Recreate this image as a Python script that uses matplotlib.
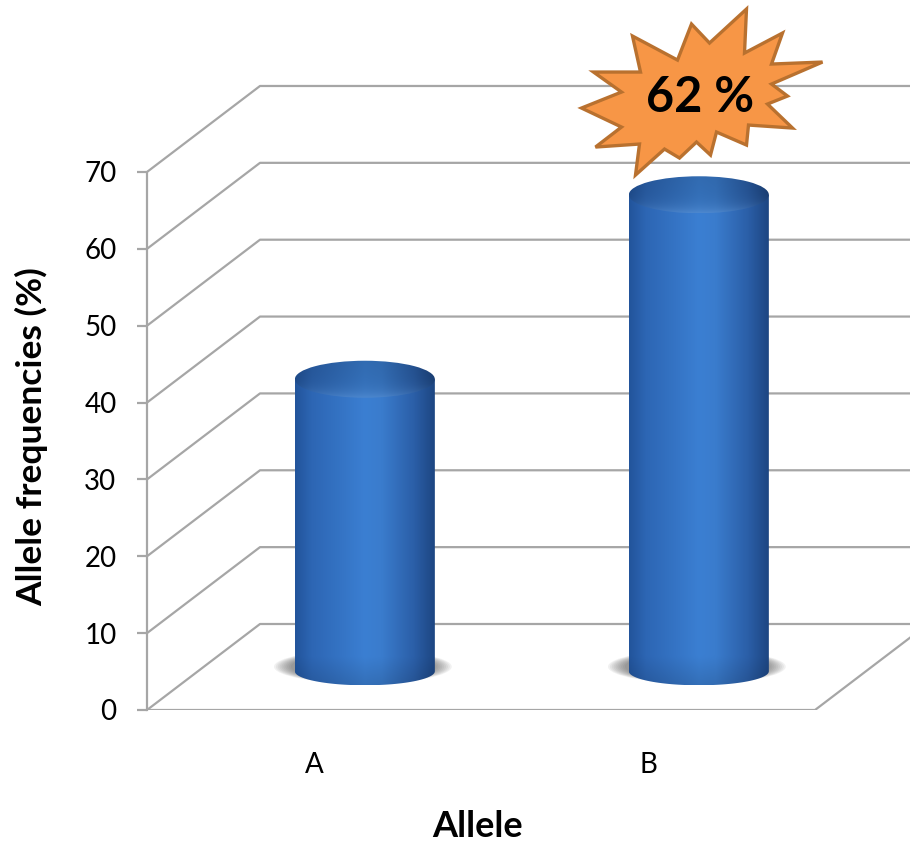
import numpy as np
import matplotlib.pyplot as plt
from matplotlib.patches import PathPatch, Ellipse, Polygon
from matplotlib.path import Path
from matplotlib.colors import to_rgb

alleles = ["A", "B"]
frequencies = [38, 62]
y_ticks = [0, 10, 20, 30, 40, 50, 60, 70]

plt.rcParams['font.family'] = ['Lato', 'DejaVu Sans']

W, H = 910, 842
fig = plt.figure(figsize=(W / 100, H / 100), dpi=100)

# front plane of the 3d box: one category = 334 px, one percent = 7.686 px
px_cat = 334.0
px_val = 7.686
left_px, base_px = 147, 710
ax = fig.add_axes([left_px / W, (H - base_px) / H, (W - left_px) / W, base_px / H])
x_lo = -0.5
x_hi = x_lo + (W - left_px) / px_cat
ax.set_xlim(x_lo, x_hi)
ax.set_ylim(0, base_px / px_val)

depth_x = 113 / px_cat
depth_y = 86 / px_val
grid_c = '#a6a6a6'
n = len(alleles)

# side wall + back wall gridlines
for v in y_ticks:
    ax.plot([x_lo, x_lo + depth_x, x_hi], [v, v + depth_y, v + depth_y],
            color=grid_c, lw=1.6, zorder=1, solid_capstyle='butt')
# front edge of the floor
ax.plot([x_lo, x_lo + n, x_lo + n + depth_x], [0, 0, depth_y],
        color=grid_c, lw=1.6, zorder=1)

for s in ['top', 'right', 'bottom']:
    ax.spines[s].set_visible(False)
ax.spines['left'].set_bounds(0, y_ticks[-1])
ax.spines['left'].set_color(grid_c)
ax.spines['left'].set_linewidth(1.6)
ax.set_yticks(y_ticks)
ax.tick_params(axis='y', length=7, width=1.6, color=grid_c, pad=15,
               labelsize=20, labelcolor='black')
ax.set_xticks(range(n), alleles)
ax.tick_params(axis='x', length=0, pad=30, labelsize=20)


def shade(stops, cols, t):
    rgb = np.array([to_rgb(c) for c in cols])
    return np.stack([np.interp(t, stops, rgb[:, k]) for k in range(3)], axis=-1)


body_stops = [0, 0.12, 0.5, 0.62, 0.85, 1]
body_cols = ['#22549b', '#2d66b4', '#3b7fd2', '#3a7ccd', '#2b5fa8', '#1d4682']

rw = 70 / px_cat      # cylinder radius in category units
ry = 18.5 / px_val    # half height of the top ellipse
ry_base = 14 / px_val # base ellipse is seen a little flatter
depth_pos = 0.45      # where the cylinders stand between front and back
y0 = depth_y * depth_pos

for i, val in enumerate(frequencies):
    cx = i + depth_x * depth_pos
    y1 = val + y0

    # soft shadow on the floor
    for k in range(10):
        s = 1.27 - 0.027 * k
        ax.add_patch(Ellipse((cx - 2 / px_cat, y0 + 0.6), 2 * rw * s, 2 * ry * (0.9 - 0.015 * k),
                             color='#3a3a3a', alpha=0.065, lw=0, zorder=2))

    # body outline: side walls + lower half of the base ellipse
    t = np.linspace(np.pi, 2 * np.pi, 60)
    verts = [(cx - rw, y1)] + list(zip(cx + rw * np.cos(t), y0 + ry_base * np.sin(t))) + [(cx + rw, y1)]
    body = PathPatch(Path(verts + [verts[0]], closed=True), fc='none', ec='none', zorder=3)
    ax.add_patch(body)

    nx, ny = 200, 200
    prof = shade(body_stops, body_cols, np.linspace(0, 1, nx))
    yy = np.linspace(y0 - ry_base, y1, ny)[:, None]
    dark = 1 - 0.12 * np.clip((y0 + ry_base - yy) / (2 * ry_base), 0, 1)
    img = prof[None, :, :] * dark[:, :, None]
    im = ax.imshow(img, extent=[cx - rw, cx + rw, y0 - ry_base, y1], origin='lower',
                   aspect='auto', interpolation='bilinear', zorder=3)
    im.set_clip_path(body)

    # top face
    top = Ellipse((cx, y1), 2 * rw, 2 * ry, fc='none', ec='none', zorder=4)
    ax.add_patch(top)
    ty = np.linspace(0, 1, ny)[:, None]          # 0 = front edge, 1 = back edge
    rim = np.clip(1 - ty, 0, 1) ** 5
    timg = prof[None, :, :] * 0.9 * (1 - 0.06 * ty[:, :, None])
    timg = timg * (1 - 0.45 * rim[:, :, None]) + np.array(to_rgb('#6aa3e6')) * 0.45 * rim[:, :, None]
    tim = ax.imshow(timg, extent=[cx - rw, cx + rw, y1 - ry, y1 + ry], origin='lower',
                    aspect='auto', interpolation='bilinear', zorder=4)
    tim.set_clip_path(top)

ax.set_xlim(x_lo, x_hi)
ax.set_ylim(0, base_px / px_val)

# starburst callout over the tallest cylinder (outline in pixel offsets)
burst = [(44, -83), (42, -39), (80, -59), (69, -28), (120, -30), (69, -8),
         (85, 4), (65, 12), (90, 36), (46, 33), (44, 53), (14, 40), (8, 63),
         (-6, 50), (-23, 66), (-38, 57), (-67, 83), (-63, 52), (-107, 55),
         (-81, 35), (-121, 16), (-81, 0), (-109, -20), (-62, -20), (-70, -56),
         (-25, -32), (-11, -68), (7, -49)]
top_i = int(np.argmax(frequencies))
bx = top_i + depth_x / 2 - 2 / px_cat
by = frequencies[top_i] + 18.4
star = [(bx + dx / px_cat, by - dy / px_val) for dx, dy in burst]
ax.add_patch(Polygon(star, closed=True, fc='#f79646', ec='#b9712f', lw=2.4,
                     joinstyle='miter', zorder=6, clip_on=False))
ax.text(bx - 2 / px_cat, by - 5 / px_val, f"{frequencies[top_i]} %", fontsize=35,
        fontweight='bold', ha='center', va='center', zorder=7)

ax.set_ylabel("Allele frequencies (%)", fontsize=25.5, fontweight='bold')
ax.yaxis.set_label_coords((48 - left_px) / (W - left_px), (base_px - 437) / base_px)
ax.set_xlabel("Allele", fontsize=26, fontweight='bold')
ax.xaxis.set_label_coords((478 - left_px) / (W - left_px), (base_px - 810) / base_px)

fig.savefig("out.png", dpi=100)
